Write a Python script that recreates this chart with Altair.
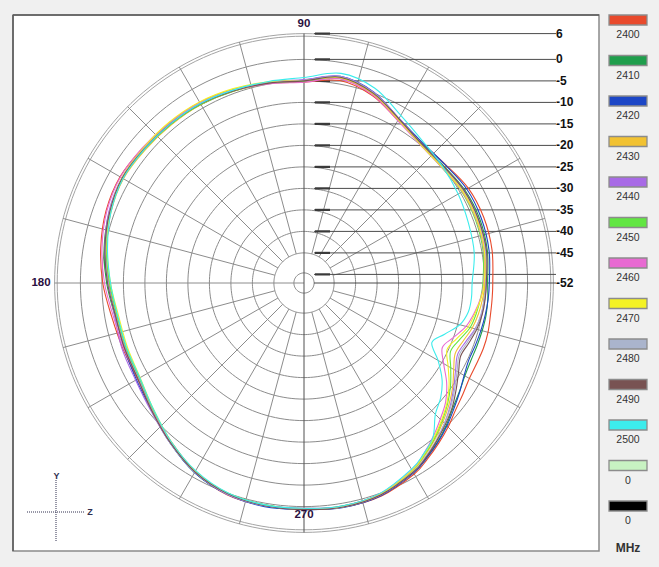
import altair as alt
import pandas as pd
import numpy as np

W, H = 659, 567
CX, CY = 304, 283          # centre of the polar grid (px)
K = 4.3                    # px per dB
DB0 = -52                  # dB value at the centre

# ---------------- data ----------------
# 10 degree steps to 290, then 5 degree steps through the notch region
angles = list(range(0, 300, 10)) + list(range(300, 360, 5))
freqs = ["2400", "2410", "2420", "2430", "2440", "2450", "2460", "2470", "2480", "2490", "2500"]
colors = ["#e84a2c", "#1f9e4c", "#1c46c6", "#f2c232", "#a86ae6", "#62e642",
          "#e86ad2", "#f4f224", "#aab4cc", "#785252", "#3cecec"]

db_2400 = [-8.1, -7.6, -7.5, -7.9, -9.1, -9.4, -8.3, -5.6, -4.2, -5.3, -4.8, -4.1, -3.5, -3.4, -3.1, -2.6, -3.0, -4.0,
           -5.2, -6.6, -7.2, -7.3, -5.9, -3.9, -1.3, 0.4, 0.6, 0.4, 0.9, 0.7,
           -0.7, -2.0, -3.3, -4.6, -6.0, -6.9, -7.6, -7.7, -7.6, -7.7, -8.0, -8.1]
db_2410 = [-9.3, -8.7, -8.5, -8.8, -9.6, -9.5, -8.0, -5.2, -3.7, -5.0, -4.8, -4.5, -4.1, -3.7, -3.4, -3.3, -3.8, -4.8,
           -6.1, -7.4, -7.8, -7.8, -6.2, -3.6, -1.1, 0.2, 0.4, 0.6, 0.6, 0.2,
           -1.1, -2.4, -3.7, -5.2, -6.8, -7.9, -8.8, -9.2, -9.2, -9.1, -9.0, -9.1]
db_2420 = [-8.9, -8.3, -8.1, -8.3, -9.2, -9.3, -7.8, -4.7, -3.2, -4.8, -4.6, -4.3, -3.9, -3.8, -3.6, -3.4, -4.1, -5.3,
           -6.6, -7.6, -7.5, -7.0, -5.8, -3.5, -1.1, 0.3, 0.8, 0.7, 1.0, 0.6,
           -1.0, -2.3, -3.6, -5.0, -6.5, -7.8, -9.0, -9.7, -9.6, -9.4, -9.2, -9.0]
db_2430 = [-9.9, -9.3, -9.1, -9.3, -10.0, -9.8, -8.2, -5.3, -3.6, -5.1, -4.9, -4.5, -4.1, -4.0, -3.8, -3.5, -4.2, -5.4,
           -6.7, -7.8, -7.9, -7.7, -6.0, -3.7, -1.4, 0.1, 0.5, 0.6, 0.8, 0.3,
           -1.5, -3.0, -4.6, -6.3, -8.0, -9.8, -11.8, -13.2, -12.6, -11.5, -10.8, -10.3]
db_2440 = [-9.6, -9.0, -8.8, -9.0, -9.8, -9.6, -7.8, -4.8, -3.2, -4.7, -4.6, -4.2, -3.6, -3.5, -3.3, -3.1, -3.7, -5.0,
           -6.5, -7.3, -7.0, -6.8, -5.6, -3.5, -1.2, 0.3, 0.6, 0.5, 0.8, 0.4,
           -1.2, -2.6, -4.1, -5.8, -7.6, -9.5, -11.3, -12.6, -12.0, -10.8, -10.1, -9.8]
db_2450 = [-10.4, -9.7, -9.5, -9.6, -10.2, -9.9, -8.0, -5.0, -3.5, -5.1, -4.9, -4.4, -4.0, -3.8, -3.6, -3.3, -4.0, -5.3,
           -6.8, -7.9, -8.0, -7.7, -6.0, -3.7, -1.4, 0.0, 0.4, 0.5, 0.7, 0.2,
           -1.6, -3.2, -4.8, -6.6, -8.4, -10.4, -12.6, -14.4, -13.5, -12.0, -11.3, -10.8]
db_2460 = [-10.2, -9.5, -9.3, -9.5, -10.2, -10.0, -8.4, -5.4, -3.8, -5.3, -5.0, -4.3, -3.6, -3.3, -3.0, -2.7, -3.2, -4.3,
           -5.6, -7.0, -7.4, -7.5, -5.9, -3.8, -1.5, 0.1, 0.5, 0.4, 0.7, 0.1,
           -1.8, -3.5, -5.3, -7.2, -9.0, -11.5, -14.5, -16.5, -15.0, -13.0, -11.8, -10.8]
db_2470 = [-10.1, -9.4, -9.2, -9.4, -10.1, -9.9, -8.1, -5.1, -3.5, -4.9, -4.5, -3.9, -3.4, -3.2, -3.2, -3.1, -4.0, -5.5,
           -7.0, -8.2, -8.3, -8.0, -6.3, -3.9, -1.5, 0.0, 0.5, 0.6, 0.8, 0.2,
           -1.7, -3.3, -5.0, -6.8, -8.6, -10.8, -13.3, -15.3, -14.2, -12.5, -11.6, -10.7]
db_2480 = [-9.7, -9.1, -8.9, -9.1, -9.8, -9.6, -7.9, -4.9, -3.3, -4.9, -4.7, -4.3, -3.8, -3.6, -3.4, -3.2, -3.9, -5.1,
           -6.4, -7.5, -7.7, -7.5, -5.8, -3.5, -1.2, 0.2, 0.6, 0.6, 0.9, 0.4,
           -1.3, -2.7, -4.2, -5.8, -7.4, -9.2, -10.9, -12.2, -11.6, -10.7, -10.2, -9.9]
db_2490 = [-9.6, -8.9, -8.8, -9.0, -9.7, -9.6, -7.9, -5.0, -3.4, -5.0, -4.8, -4.4, -3.9, -3.7, -3.5, -3.2, -3.9, -5.0,
           -6.3, -7.5, -7.6, -7.4, -5.8, -3.6, -1.3, 0.1, 0.6, 0.7, 0.9, 0.4,
           -1.2, -2.5, -4.0, -5.5, -7.0, -8.8, -10.5, -11.8, -11.2, -10.4, -9.9, -9.7]
db_2500 = [-12.9, -11.8, -11.3, -10.6, -9.9, -9.0, -7.0, -3.8, -2.5, -4.2, -4.4, -4.2, -3.8, -3.7, -3.6, -3.4, -4.2, -5.6,
           -7.0, -8.0, -8.1, -7.9, -6.3, -3.9, -1.6, -0.1, 0.4, 0.4, 0.6, 0.0,
           -2.0, -3.5, -5.3, -8.8, -10.5, -12.8, -16.0, -19.2, -17.2, -14.5, -13.2, -12.9]
series = [db_2400, db_2410, db_2420, db_2430, db_2440, db_2450, db_2460, db_2470, db_2480, db_2490, db_2500]

legend_names = freqs + ["0", "0"]
legend_colors = colors + ["#c8f2c2", "#000000"]

ring_levels = [-45, -40, -35, -30, -25, -20, -15, -10, -5, 0]
scale_levels = [6, 0, -5, -10, -15, -20, -25, -30, -35, -40, -45, -52]
scale_labels = ["6", "0", "-5", "-10", "-15", "-20", "-25", "-30", "-35", "-40", "-45", "-52"]
rule_levels = [6, 0, -5, -10, -15, -20, -25, -30, -35, -40, -45, -50]
angle_labels = ["90", "180", "270"]

# ---------------- helpers ----------------
xs = alt.Scale(domain=[0, W], range=[0, W], nice=False, zero=False)
ys = alt.Scale(domain=[0, H], range=[0, H], nice=False, zero=False)


def X(f):
    return alt.X(f, type="quantitative", scale=xs, axis=None)


def Y(f):
    return alt.Y(f, type="quantitative", scale=ys, axis=None)


def pxe(dbf, af):
    return f"{CX} + {K}*(datum.{dbf} - ({DB0}))*cos(datum.{af}*PI/180)"


def pye(dbf, af):
    return f"{CY} - {K}*(datum.{dbf} - ({DB0}))*sin(datum.{af}*PI/180)"


one = pd.DataFrame({"a": [0]})
FONT = "Liberation Sans"

# ---------------- panel ----------------
panel = alt.Chart(one).mark_rect(fill="white", stroke="#8a8a8a", strokeWidth=1.5).encode(
    x=alt.value(13), x2=alt.value(599), y=alt.value(15), y2=alt.value(551))
panel_tl = alt.Chart(one).mark_rule(color="#5a5a5a", strokeWidth=1.5).encode(
    x=alt.value(13), x2=alt.value(599), y=alt.value(15))
panel_l = alt.Chart(one).mark_rule(color="#5a5a5a", strokeWidth=1.5).encode(
    x=alt.value(13), y=alt.value(15), y2=alt.value(551))

# ---------------- grid ----------------
ring_df = pd.DataFrame([(lv, a) for lv in ring_levels for a in range(0, 362, 2)], columns=["db", "angle"])
rings = alt.Chart(ring_df).transform_calculate(px=pxe("db", "angle"), py=pye("db", "angle")).mark_line(
    color="#8c8c8c", strokeWidth=1).encode(x=X("px"), y=Y("py"), detail="db:N", order="angle:Q")

outer_df = pd.DataFrame([(lv, a) for lv in [5.4, 6.0] for a in range(0, 362, 2)], columns=["db", "angle"])
outer = alt.Chart(outer_df).transform_calculate(px=pxe("db", "angle"), py=pye("db", "angle")).mark_line(
    color="#a4a4a4", strokeWidth=1).encode(x=X("px"), y=Y("py"), detail="db:N", order="angle:Q")

center_df = pd.DataFrame([(-49.65, a) for a in range(0, 362, 6)], columns=["db", "angle"])
center = alt.Chart(center_df).transform_calculate(px=pxe("db", "angle"), py=pye("db", "angle")).mark_line(
    color="#8c8c8c", strokeWidth=1).encode(x=X("px"), y=Y("py"), order="angle:Q")

spoke_df = pd.DataFrame({"angle": [a for a in range(0, 360, 15) if a % 90], "db1": -45, "db2": 6})
spokes = alt.Chart(spoke_df).transform_calculate(
    x1=pxe("db1", "angle"), y1=pye("db1", "angle"), x2=pxe("db2", "angle"), y2=pye("db2", "angle")
).mark_rule(color="#8c8c8c", strokeWidth=1).encode(x=X("x1"), y=Y("y1"), x2="x2:Q", y2="y2:Q")

vaxis_df = pd.DataFrame({"angle": [90, 270], "db1": DB0, "db2": 6})
vaxis = alt.Chart(vaxis_df).transform_calculate(
    x1=pxe("db1", "angle"), y1=pye("db1", "angle"), x2=pxe("db2", "angle"), y2=pye("db2", "angle")
).mark_rule(color="#505050", strokeWidth=1).encode(x=X("x1"), y=Y("y1"), x2="x2:Q", y2="y2:Q")

haxis_df = pd.DataFrame({"angle": [180], "db1": DB0, "db2": 6})
haxis = alt.Chart(haxis_df).transform_calculate(
    x1=pxe("db1", "angle"), y1=pye("db1", "angle"), x2=pxe("db2", "angle"), y2=pye("db2", "angle")
).mark_rule(color="#8c8c8c", strokeWidth=1).encode(x=X("x1"), y=Y("y1"), x2="x2:Q", y2="y2:Q")

rule_df = pd.DataFrame({"db": rule_levels + [DB0], "angle": 90})
rulers = alt.Chart(rule_df).transform_calculate(py=pye("db", "angle")).mark_rule(
    color="#4a4a4a", strokeWidth=1).encode(x=alt.value(314), x2=alt.value(556), y=Y("py"))
ticks = alt.Chart(pd.DataFrame({"db": rule_levels, "angle": 90})).transform_calculate(
    py=pye("db", "angle")).mark_rule(color="#3a3a3a", strokeWidth=2.2).encode(
    x=alt.value(315), x2=alt.value(330), y=Y("py"))

# ---------------- curves ----------------
curve_df = pd.DataFrame([(f, a, v) for f, vals in zip(freqs, series) for a, v in zip(angles, vals)],
                        columns=["freq", "angle", "db"])
curves = alt.Chart(curve_df).transform_calculate(px=pxe("db", "angle"), py=pye("db", "angle")).mark_line(
    strokeWidth=1.1, interpolate="cardinal-closed").encode(
    x=X("px"), y=Y("py"),
    color=alt.Color("freq:N", scale=alt.Scale(domain=freqs, range=colors), legend=None),
    order="angle:Q")

# ---------------- labels ----------------
lab_df = pd.DataFrame({"db": scale_levels, "txt": scale_labels, "angle": 90})
db_labels = alt.Chart(lab_df).transform_calculate(py=pye("db", "angle")).mark_text(
    align="left", baseline="middle", font=FONT, fontSize=12, fontWeight="bold", color="#111111", dx=-1
).encode(x=alt.value(557), y=Y("py"), text="txt:N")

ang_df = pd.DataFrame({"txt": angle_labels, "xp": [CX, 41, CX], "yp": [24, CY, 515]})
ang_labels = alt.Chart(ang_df).mark_text(
    align="center", baseline="middle", font=FONT, fontSize=11.5, fontWeight="bold", color="#2a1040"
).encode(x=X("xp"), y=Y("yp"), text="txt:N")

# ---------------- legend ----------------
leg_df = pd.DataFrame({"name": legend_names, "col": legend_colors, "idx": list(range(len(legend_names)))})
leg_base = alt.Chart(leg_df).transform_calculate(ly1="15 + 40.5*datum.idx",
                                                 ly2="25 + 40.5*datum.idx", lt="35 + 40.5*datum.idx")
leg_sw = leg_base.mark_rect(stroke="#8c8c8c", strokeWidth=1.3).encode(
    x=alt.value(609), x2=alt.value(647), y=Y("ly1"), y2="ly2:Q", fill=alt.Color("col:N", scale=None))
leg_tx = leg_base.mark_text(align="center", baseline="middle", font=FONT, fontSize=10.5, color="#333333").encode(
    x=alt.value(628), y=Y("lt"), text="name:N")
mhz = alt.Chart(one).mark_text(align="center", baseline="middle", font=FONT, fontSize=12, fontWeight="bold",
                               color="#333333", text="MHz").encode(x=alt.value(628), y=alt.value(548))

# ---------------- Y/Z icon ----------------
icon_v = alt.Chart(one).mark_rule(color="#303050", strokeWidth=1, strokeDash=[1, 1]).encode(
    x=alt.value(56), y=alt.value(480), y2=alt.value(541))
icon_h = alt.Chart(one).mark_rule(color="#303050", strokeWidth=1, strokeDash=[1, 1]).encode(
    x=alt.value(27), x2=alt.value(85), y=alt.value(512))
icon_y = alt.Chart(one).mark_text(font=FONT, fontSize=9, fontWeight="bold", color="#303050", text="Y",
                                  align="center", baseline="middle").encode(x=alt.value(56.5), y=alt.value(476))
icon_z = alt.Chart(one).mark_text(font=FONT, fontSize=9, fontWeight="bold", color="#303050", text="Z",
                                  align="center", baseline="middle").encode(x=alt.value(90), y=alt.value(512))

chart = alt.layer(
    panel, panel_tl, panel_l,
    rings, outer, center, spokes, haxis, rulers, ticks, vaxis,
    curves,
    db_labels, ang_labels,
    leg_sw, leg_tx, mhz,
    icon_v, icon_h, icon_y, icon_z,
).properties(
    width=W, height=H, background="#f0f0f0", padding=0,
    autosize=alt.AutoSizeParams(type="none"),
).configure_view(stroke=None)

chart.save("out.html", embed_options={"renderer": "svg", "actions": False})
